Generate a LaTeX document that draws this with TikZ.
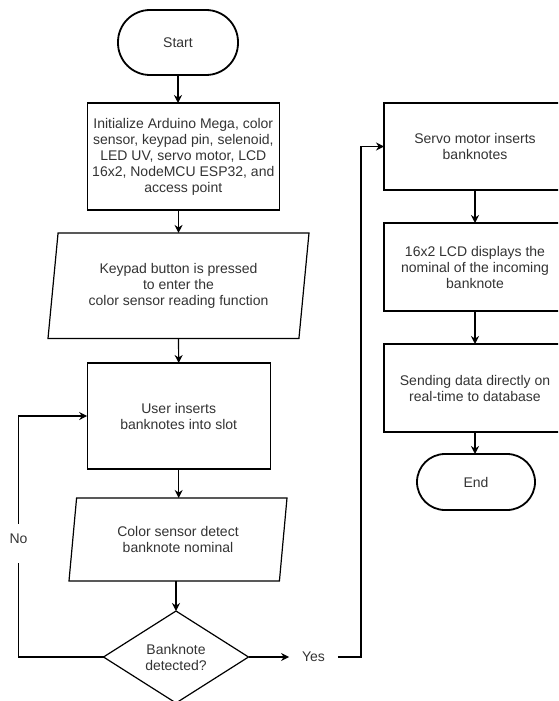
\documentclass[tikz,border=0pt]{standalone}
\usepackage{fontspec}
\setmainfont{Liberation Sans}
\usetikzlibrary{shapes.geometric,arrows.meta}

\begin{document}
\begin{tikzpicture}[x=1pt,y=-1pt,inner sep=0pt,outer sep=0pt,line width=1.2pt,
	font=\fontsize{14}{16}\selectfont,text=black!80,
	term/.style={draw=black,rectangle,rounded corners=#1,line width=1.8pt},
	proc/.style={draw=black,rectangle,align=center,minimum width=183,minimum height=106},
	io/.style={draw=black,trapezium,trapezium stretches body,align=center}]
	\useasboundingbox (0,0) rectangle (558,701);
	\clip (0,0) rectangle (558,701);
	\node[term=32,minimum width=120,minimum height=65] (start) at (178,42.5) {Start};
	\node[proc,minimum width=192,minimum height=107] (init) at (183.3,156.5)
		{Initialize Arduino Mega, color\\sensor, keypad pin, selenoid,\\LED UV, servo motor, LCD\\16x2, NodeMCU ESP32, and\\access point};
	\node[io,trapezium left angle=77.4,trapezium right angle=102.6,
		minimum width=261,minimum height=105.5] (key) at (178.5,285.7)
		{Keypad button is pressed\\to enter the\\color sensor reading function};
	\node[proc] (user) at (178.7,416) {User inserts\\banknotes into slot};
	\node[io,trapezium left angle=73.9,trapezium right angle=106.1,
		minimum width=218,minimum height=83] (color) at (178,539.5)
		{Color sensor detect\\banknote nominal};
	\node[draw=black,diamond,aspect=1.6,align=center,minimum width=145,minimum height=92]
		(dec) at (176,657) {Banknote\\detected?};
	\node[proc,minimum width=182,minimum height=87] (servo) at (475,146.5)
		{Servo motor inserts\\banknotes};
	\node[proc,minimum width=182,minimum height=88] (lcd) at (475,267)
		{16x2 LCD displays the\\nominal of the incoming\\banknote};
	\node[proc,minimum width=182,minimum height=88] (data) at (475,388)
		{Sending data directly on\\real-time to database};
	\node[term=28,minimum width=118,minimum height=56] (end) at (476,482) {End};
	\node[inner ysep=10pt,text depth=9.5pt,anchor=base] (no) at (18.5,543.3) {No};
	\node[inner xsep=13pt] (yes) at (313.5,657) {Yes};
	\coordinate (turn) at (361,657);
	\begin{scope}[->,>={Stealth[length=8pt,width=8pt]}]
	\draw (start.south) -- (start.south |- init.north);
	\draw (init.south -| key.north) -- (key.north);
	\draw (key.south) -- (user.north);
	\draw (user.south) -- (user.south |- color.north);
	\draw (color.south -| dec.north) -- (dec.north);
	\draw (no.north) |- (user.west);
	\draw (dec.east) -- (yes.west);
	\draw (yes.east) -- (turn) |- (servo.west);
	\draw (servo) -- (lcd);
	\draw (lcd) -- (data);
	\draw (data.south) -- (data.south |- end.north);
	\end{scope}
	\draw (dec.west) -| (no.south);
\end{tikzpicture}
\end{document}
